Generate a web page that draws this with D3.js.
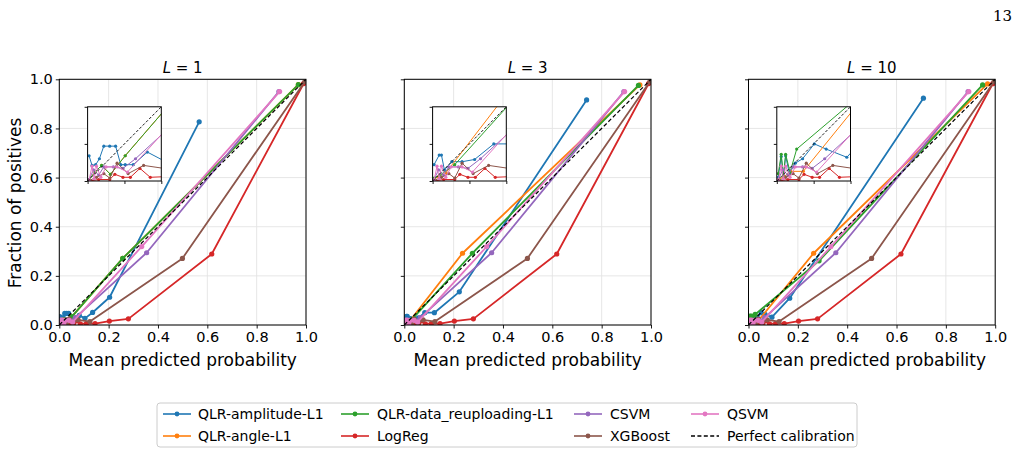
<!DOCTYPE html>
<html><head><meta charset="utf-8">
<script src="https://cdn.jsdelivr.net/npm/d3@7"></script>
<style>body{margin:0;background:#fff} svg{display:block} text{font-family:"DejaVu Sans",sans-serif}</style>
</head><body><svg id="c" width="1021" height="457"></svg>
<script>
// ---------- data ----------
const panelTitles = ["1", "3", "10"];
const seriesNames = ["QLR-amplitude-L1","QLR-angle-L1","QLR-data_reuploading-L1","LogReg","CSVM","XGBoost","QSVM"];
const seriesColors = ["#1f77b4","#ff7f0e","#2ca02c","#d62728","#9467bd","#8c564b","#e377c2"];
const tickValues = [0, 0.2, 0.4, 0.6, 0.8, 1.0];
const tickLabels = ["0.0","0.2","0.4","0.6","0.8","1.0"];
const insetTicks = [0, 0.05, 0.1];
const perfectLine = [[0,0],[1,1]];

// quantum models, L = 1
const amplitudeL1 = [[0.002,0.034],[0.006,0.021],[0.011,0.022],[0.016,0.030],[0.022,0.047],[0.030,0.047],[0.038,0.047],[0.045,0.022],[0.051,0.022],[0.062,0.022],[0.081,0.039],[0.104,0.027],[0.135,0.051],[0.204,0.113],[0.567,0.827]];
const angleL1 = [[0.002,0.002],[0.010,0.012],[0.019,0.021],[0.031,0.009],[0.051,0.034],[0.257,0.271],[0.969,0.978]];
const reuploadL1 = [[0.002,0.002],[0.010,0.012],[0.019,0.021],[0.031,0.009],[0.051,0.034],[0.257,0.271],[0.969,0.978]];
// L = 3
const amplitudeL3 = [[0.002,0.022],[0.009,0.035],[0.012,0.035],[0.016,0.015],[0.026,0.026],[0.040,0.026],[0.057,0.029],[0.083,0.050],[0.122,0.050],[0.223,0.135],[0.739,0.916]];
const angleL3 = [[0.002,0.002],[0.008,0.006],[0.018,0.011],[0.236,0.292],[0.955,0.977]];
const reuploadL3 = [[0.002,0.004],[0.010,0.008],[0.030,0.022],[0.276,0.292],[0.949,0.975]];
// L = 10
const amplitudeL10 = [[0.002,0.005],[0.006,0.033],[0.009,0.005],[0.012,0.034],[0.017,0.010],[0.025,0.024],[0.035,0.030],[0.051,0.050],[0.067,0.043],[0.095,0.032],[0.167,0.109],[0.709,0.923]];
const angleL10 = [[0.002,0.002],[0.010,0.006],[0.019,0.013],[0.036,0.013],[0.264,0.292],[0.969,0.981]];
const reuploadL10 = [[0.002,0.010],[0.006,0.036],[0.009,0.008],[0.012,0.036],[0.018,0.012],[0.027,0.043],[0.286,0.261],[0.949,0.977]];
// classical / kernel models (same in every panel)
const logReg = [[0.003,0.000],[0.015,0.002],[0.030,0.002],[0.037,0.009],[0.048,0.005],[0.058,0.005],[0.071,0.017],[0.085,0.005],[0.110,0.006],[0.145,0.006],[0.203,0.016],[0.280,0.025],[0.618,0.289],[0.990,0.982]];
const csvm = [[0.002,0.002],[0.008,0.015],[0.015,0.008],[0.022,0.019],[0.035,0.019],[0.048,0.017],[0.065,0.030],[0.354,0.294],[0.890,0.950]];
const xgboost = [[0.003,0.001],[0.012,0.005],[0.022,0.010],[0.030,0.004],[0.040,0.024],[0.055,0.010],[0.076,0.021],[0.124,0.014],[0.499,0.271],[0.995,0.990]];
const qsvm = [[0.002,0.001],[0.006,0.020],[0.009,0.003],[0.012,0.020],[0.018,0.005],[0.025,0.019],[0.040,0.019],[0.054,0.012],[0.334,0.319],[0.893,0.950]];

const panelSeries = [
  [amplitudeL1, angleL1, reuploadL1, logReg, csvm, xgboost, qsvm],
  [amplitudeL3, angleL3, reuploadL3, logReg, csvm, xgboost, qsvm],
  [amplitudeL10, angleL10, reuploadL10, logReg, csvm, xgboost, qsvm]
];

// ---------- drawing ----------
const svg = d3.select("#c");
svg.append("rect").attr("width",1021).attr("height",457).attr("fill","#fff");
const defs = svg.append("defs");
const lefts = [59.3, 404.3, 748.5];
const top0 = 79.3, W = 246.7, H = 245.7;
const insW = 73.7, insH = 74.2, insDX = 28.3, insDY = 27.5;

function drawSeries(g, xs, ys, data, color, lw, r) {
  const line = d3.line().x(d => xs(d[0])).y(d => ys(d[1]));
  g.append("path").attr("d", line(data)).attr("fill","none").attr("stroke",color)
    .attr("stroke-width",lw).attr("stroke-linejoin","round");
  g.selectAll(null).data(data).enter().append("circle")
    .attr("cx", d => xs(d[0])).attr("cy", d => ys(d[1])).attr("r", r).attr("fill", color);
}

panelTitles.forEach((t, pi) => {
  const L = lefts[pi];
  const x = d3.scaleLinear().domain([0,1]).range([L, L+W]);
  const y = d3.scaleLinear().domain([0,1]).range([top0+H, top0]);
  const g = svg.append("g");
  // grid
  g.selectAll(null).data(tickValues).enter().append("line")
    .attr("x1", d=>x(d)).attr("x2", d=>x(d)).attr("y1", top0).attr("y2", top0+H)
    .attr("stroke","#e3e3e3").attr("stroke-width",0.9);
  g.selectAll(null).data(tickValues).enter().append("line")
    .attr("y1", d=>y(d)).attr("y2", d=>y(d)).attr("x1", L).attr("x2", L+W)
    .attr("stroke","#e3e3e3").attr("stroke-width",0.9);
  // clip
  const cid = "clip" + pi;
  defs.append("clipPath").attr("id", cid).append("rect")
    .attr("x", L).attr("y", top0).attr("width", W).attr("height", H);
  const pg = g.append("g").attr("clip-path", `url(#${cid})`);
  panelSeries[pi].forEach((s, si) => drawSeries(pg, x, y, s, seriesColors[si], 1.8, 2.6));
  pg.append("path").attr("d", d3.line().x(d=>x(d[0])).y(d=>y(d[1]))(perfectLine))
    .attr("stroke","#000").attr("stroke-width",1.2).attr("stroke-dasharray","4,2.4").attr("fill","none");
  // axes
  const ax = g.append("g").attr("transform", `translate(0,${top0+H})`)
    .call(d3.axisBottom(x).tickValues(tickValues).tickFormat((d,i)=>tickLabels[i]).tickSize(3.5).tickPadding(3));
  const ay = g.append("g").attr("transform", `translate(${L},0)`)
    .call(d3.axisLeft(y).tickValues(tickValues).tickFormat((d,i)=> pi===0 ? tickLabels[i] : "").tickSize(3.5).tickPadding(3));
  [ax, ay].forEach(a => {
    a.select(".domain").remove();
    a.selectAll(".tick line").attr("stroke","#000").attr("stroke-width",0.9);
    a.selectAll(".tick text").attr("fill","#000").style("font-size","14.5px").style("font-family","DejaVu Sans");
  });
  // spines
  g.append("rect").attr("x", L).attr("y", top0).attr("width", W).attr("height", H)
    .attr("fill","none").attr("stroke","#000").attr("stroke-width",1);
  // title
  const tt = g.append("text").attr("x", L+W/2).attr("y", 73).attr("text-anchor","middle")
    .style("font-size","15px").attr("fill","#000");
  tt.append("tspan").style("font-style","italic").text("L");
  tt.append("tspan").text(" = " + t);
  // x label
  g.append("text").attr("x", L+W/2).attr("y", 366).attr("text-anchor","middle")
    .style("font-size","17px").attr("fill","#000").text("Mean predicted probability");

  // ---- inset ----
  const iL = L + insDX, iT = top0 + insDY;
  const xi = d3.scaleLinear().domain([0,0.1]).range([iL, iL+insW]);
  const yi = d3.scaleLinear().domain([0,0.1]).range([iT+insH, iT]);
  const ig = svg.append("g");
  ig.append("rect").attr("x", iL).attr("y", iT).attr("width", insW).attr("height", insH).attr("fill","#fff");
  const icid = "iclip" + pi;
  defs.append("clipPath").attr("id", icid).append("rect")
    .attr("x", iL).attr("y", iT).attr("width", insW).attr("height", insH);
  const ipg = ig.append("g").attr("clip-path", `url(#${icid})`);
  panelSeries[pi].forEach((s, si) => drawSeries(ipg, xi, yi, s, seriesColors[si], 1.0, 1.6));
  ipg.append("path").attr("d", d3.line().x(d=>xi(d[0])).y(d=>yi(d[1]))(perfectLine))
    .attr("stroke","#000").attr("stroke-width",0.9).attr("stroke-dasharray","2.8,1.8").attr("fill","none");
  const iax = ig.append("g").attr("transform", `translate(0,${iT+insH})`)
    .call(d3.axisBottom(xi).tickValues(insetTicks).tickFormat("").tickSize(3));
  const iay = ig.append("g").attr("transform", `translate(${iL},0)`)
    .call(d3.axisLeft(yi).tickValues(insetTicks).tickFormat("").tickSize(3));
  [iax, iay].forEach(a => {
    a.select(".domain").remove();
    a.selectAll(".tick line").attr("stroke","#000").attr("stroke-width",0.9);
  });
  ig.append("rect").attr("x", iL).attr("y", iT).attr("width", insW).attr("height", insH)
    .attr("fill","none").attr("stroke","#000").attr("stroke-width",1);
});

// y label
svg.append("text").attr("transform","translate(21,203) rotate(-90)").attr("text-anchor","middle")
  .style("font-size","17px").attr("fill","#000").text("Fraction of positives");

// page number
svg.append("text").attr("x", 1012).attr("y", 21).attr("text-anchor","end")
  .style("font-family","'DejaVu Serif',serif").style("font-size","15px").attr("fill","#000").text("13");

// legend
const lg = svg.append("g");
lg.append("rect").attr("x",157).attr("y",403).attr("width",700).attr("height",44).attr("rx",3)
  .attr("fill","#fff").attr("stroke","#cccccc").attr("stroke-width",1);
const legendEntries = seriesNames.map((n,i)=>({name:n, color:seriesColors[i], dashed:false}))
  .concat([{name:"Perfect calibration", color:"#000", dashed:true}]);
const colHandleX = [163, 341, 574, 691];
const colTextX = [198, 377, 610, 727];
const rowY = [414, 436];
legendEntries.forEach((e, i) => {
  const c = Math.floor(i/2), r = i % 2;
  const hx = colHandleX[c], yy = rowY[r];
  const ln = lg.append("line").attr("x1",hx).attr("x2",hx+28).attr("y1",yy).attr("y2",yy)
    .attr("stroke",e.color).attr("stroke-width",e.dashed?1.3:1.6);
  if (e.dashed) ln.attr("stroke-dasharray","4,2.4");
  else lg.append("circle").attr("cx",hx+14).attr("cy",yy).attr("r",2.4).attr("fill",e.color);
  lg.append("text").attr("x",colTextX[c]).attr("y",yy+5).style("font-size","14px").attr("fill","#000").text(e.name);
});
</script></body></html>
